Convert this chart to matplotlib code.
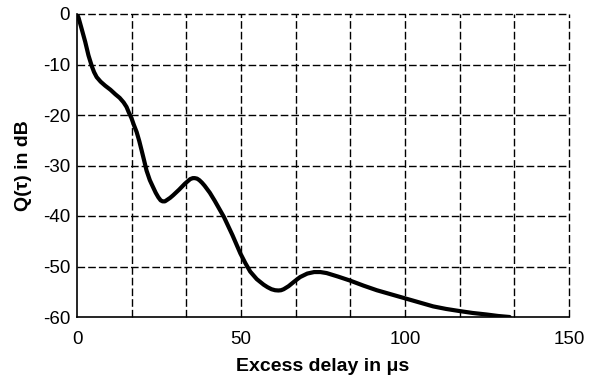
import numpy as np
import matplotlib
matplotlib.use("Agg")
import matplotlib.pyplot as plt

# Q(tau) versus excess delay, traced curve points
delay_us = [0, 0.5, 1.4, 2.5, 3.5, 4.5, 5.2, 6.0, 7.2, 8.6, 10.2, 11.7, 13.0, 14.2,
            15.1, 15.8, 16.6, 17.3, 18.2, 19.0, 19.7, 20.5, 21.2, 22.2, 23.2, 24.0,
            24.8, 25.5, 26.1, 26.8, 27.5, 28.4, 29.3, 31.1, 32.9, 34.5, 35.3, 35.9,
            36.6, 37.3, 38.1, 38.9, 40.5, 42.0, 43.4, 44.8, 46.1, 47.4, 48.6, 49.8,
            51.3, 52.8, 54.8, 56.9, 58.1, 59.3, 60.4, 61.4, 62.2, 63.0, 64.5, 66.2,
            68.0, 70.2, 72.3, 74.2, 76.1, 79.6, 83.3, 87.4, 91.4, 95.7, 100.0,
            104.3, 108.6, 112.5, 116.4, 120.6, 124.8, 128.4, 131.9]
q_db = [0, -0.8, -2.9, -5.5, -8.2, -10.3, -11.5, -12.5, -13.4, -14.2, -15.0, -15.9,
        -16.6, -17.5, -18.4, -19.5, -20.6, -21.9, -23.4, -25.2, -27.0, -29.1, -31.0,
        -32.9, -34.3, -35.4, -36.3, -36.9, -37.1, -37.1, -36.8, -36.4, -35.9, -34.8,
        -33.6, -32.7, -32.5, -32.5, -32.6, -32.9, -33.4, -34.0, -35.4, -37.0, -38.6,
        -40.2, -42.0, -43.8, -45.6, -47.4, -49.3, -51.0, -52.5, -53.6, -54.1, -54.5,
        -54.7, -54.75, -54.7, -54.5, -53.9, -53.0, -52.1, -51.4, -51.1, -51.1, -51.3,
        -52.0, -52.8, -53.8, -54.7, -55.5, -56.3, -57.1, -57.9, -58.4, -58.8, -59.2,
        -59.5, -59.8, -60.0]

x_ticks = [0, 50, 100, 150]
y_ticks = [-60, -50, -40, -30, -20, -10, 0]
x_grid = np.linspace(0, 150, 10)

plt.rcParams['font.family'] = ['Liberation Sans', 'DejaVu Sans']
plt.rcParams['axes.unicode_minus'] = False

fig = plt.figure(figsize=(5.89, 3.77), dpi=100)
ax = fig.add_axes([77 / 589, 1 - 317 / 377, 492 / 589, 303 / 377])

ax.plot(delay_us, q_db, color='black', linewidth=3.0, solid_joinstyle='round',
        solid_capstyle='round', zorder=3)

ax.set_xlim(0, 150)
ax.set_ylim(-60, 0)
ax.set_xticks(x_ticks)
ax.set_yticks(y_ticks)
ax.tick_params(which='both', length=0)
ax.tick_params(axis='x', pad=10, labelsize=13.5)
ax.tick_params(axis='y', pad=5, labelsize=13.5)

# dashed grid: 9 columns across x, one row per 10 dB
grid_style = dict(color='black', linestyle=(0, (5.5, 2.2)), linewidth=1.0)
ax.grid(False)
for x in x_grid[1:]:
    ax.axvline(x, clip_on=False, zorder=1, **grid_style)
for y in y_ticks[1:]:
    ax.axhline(y, clip_on=False, zorder=1, **grid_style)

for side in ('top', 'right'):
    ax.spines[side].set_visible(False)
for side in ('left', 'bottom'):
    ax.spines[side].set_linewidth(1.2)
    ax.spines[side].set_color('black')

ax.set_xlabel('Excess delay in \u03bcs', fontsize=14, fontweight='bold', labelpad=7)
ax.set_ylabel('Q(\u03c4) in dB', fontsize=14, fontweight='bold', labelpad=8)

fig.savefig('out.png', dpi=100)
